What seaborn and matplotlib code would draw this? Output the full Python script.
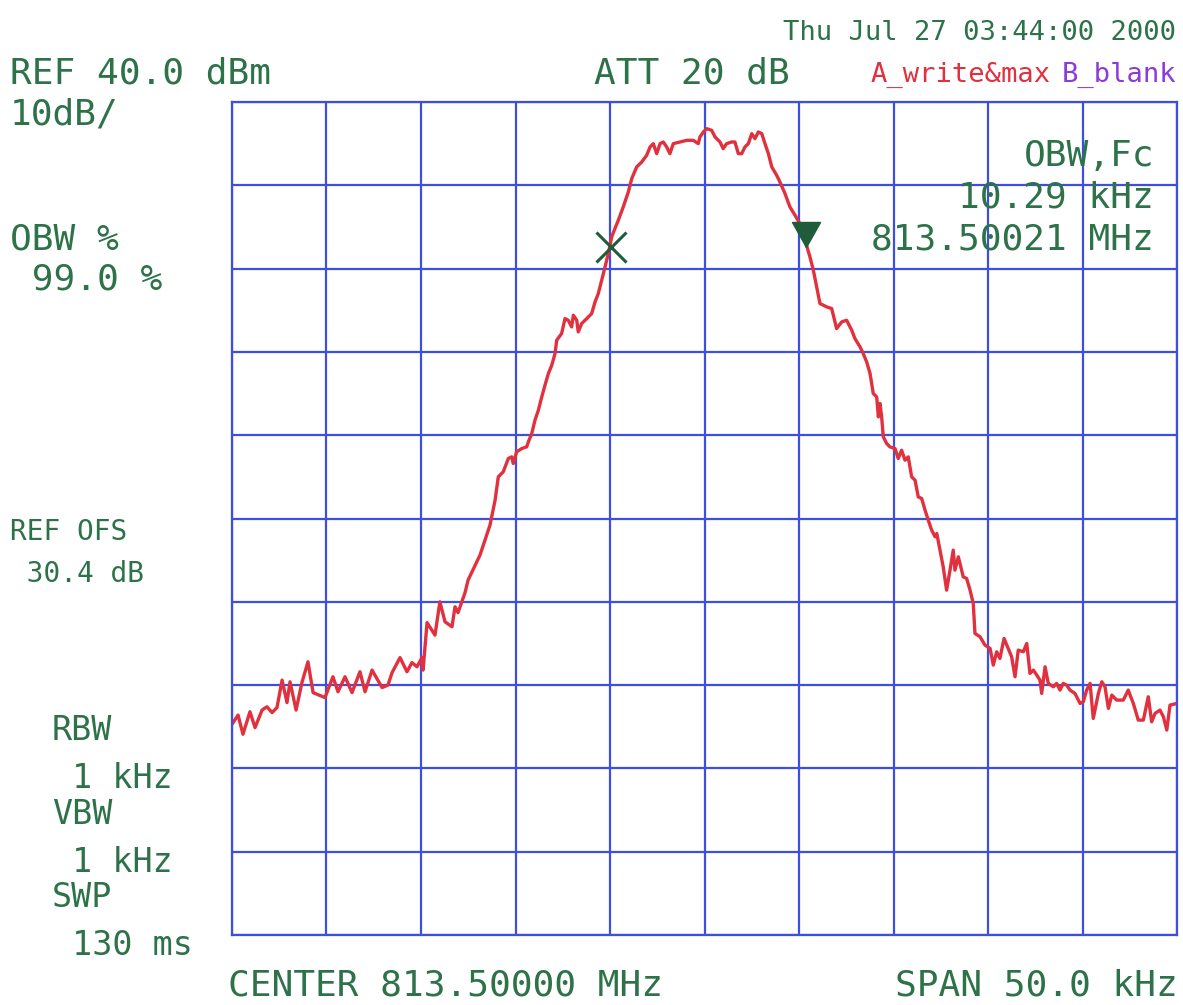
import numpy as np
import pandas as pd
import matplotlib
matplotlib.use("Agg")
import matplotlib.pyplot as plt
import seaborn as sns

# trace: offset from center (kHz) and level (dBm)
freq_khz = [
    -25.00, -24.68, -24.42, -24.05, -23.78, -23.41, -23.15, -22.88, -22.62, -22.35,
    -22.09, -21.93, -21.61, -21.30, -20.98, -20.71, -20.08, -19.66, -19.39, -19.02,
    -18.65, -18.23, -17.96, -17.59, -17.06, -16.75, -16.53, -16.11, -15.74, -15.48,
    -15.21, -14.95, -14.89, -14.68, -14.26, -14.00, -13.73, -13.36, -13.20, -13.04,
    -12.67, -12.51, -11.88, -11.35,
    -11.08, -10.91, -10.65, -10.38, -10.20, -10.12, -9.94, -9.67, -9.41, -9.32,
    -9.14, -8.97, -8.79, -8.61, -8.44, -8.26, -8.08, -7.91, -7.82, -7.56,
    -7.38, -7.21, -7.03, -6.94, -6.76, -6.68, -6.50, -6.23, -5.97, -5.79,
    -5.62, -5.35, -5.09, -4.91, -4.74, -4.56, -4.30, -4.03, -3.85, -3.59,
    -3.32, -3.06, -2.88, -2.71, -2.53, -2.35, -2.18, -2.00, -1.83, -1.65,
    -1.30, -0.94, -0.59, -0.33, -0.24, -0.06, 0.12, 0.38, 0.56, 0.82,
    0.99, 1.17, 1.44, 1.61, 1.79, 1.97, 2.14, 2.32, 2.50, 2.67,
    2.85, 3.03, 3.20, 3.38, 3.56, 3.82, 3.99, 4.26, 4.52, 4.79,
    5.05, 5.32, 5.58,
    5.76, 6.11, 6.47, 6.73, 6.99, 7.26, 7.52, 7.79, 7.96, 8.23,
    8.40, 8.58, 8.76, 8.93, 9.11, 9.20, 9.29, 9.38, 9.46, 9.64,
    9.81, 10.08, 10.25, 10.43, 10.61, 10.78, 10.96, 11.14, 11.31, 11.49,
    11.67, 11.84, 12.02, 12.20, 12.29, 12.46, 12.63, 12.81, 12.99, 13.16,
    13.25, 13.43, 13.69, 13.87, 14.05, 14.22, 14.31, 14.58, 14.84, 15.11,
    15.28, 15.46, 15.63, 15.85, 16.07, 16.25, 16.43, 16.60, 16.87, 17.05,
    17.22, 17.40, 17.58, 17.75, 17.84, 18.02, 18.19, 18.46, 18.63, 18.81,
    18.98, 19.16, 19.34, 19.60, 19.87, 20.04, 20.22, 20.40, 20.57, 20.84,
    21.02, 21.19, 21.37, 21.55, 21.81, 22.16, 22.42, 22.69, 22.95, 23.22,
    23.48, 23.66, 23.84, 24.10, 24.28, 24.46, 24.63, 25.00,
]

level_dbm = [
    -34.7, -33.6, -35.9, -33.2, -35.1, -33.0, -32.6, -33.3, -32.7, -29.4,
    -32.1, -29.6, -33.0, -29.7, -27.2, -30.9, -31.5, -29.0, -30.8, -29.0,
    -30.9, -28.4, -30.8, -28.2, -30.3, -30.0, -28.5, -26.7, -28.4, -27.3,
    -27.8, -26.7, -28.2, -22.5, -24.0, -20.0, -22.4, -23.0, -20.6, -21.3,
    -18.9, -17.4, -14.4, -10.8,
    -7.8, -5.0, -4.4, -2.8, -2.6, -3.4, -2.0, -1.6, -1.4, -0.8,
    0.2, 1.8, 3.0, 4.6, 6.0, 7.4, 8.4, 9.8, 11.4, 12.2,
    14.0, 13.8, 13.0, 14.4, 13.8, 12.4, 13.4, 14.0, 14.6, 16.0,
    17.0, 19.4, 21.8, 23.8, 24.8, 25.8, 27.4, 29.2, 30.8, 32.2,
    32.8, 33.6, 34.6, 35.0, 33.8, 35.0, 35.2, 34.6, 33.8, 35.0,
    35.2, 35.4, 35.4, 35.0, 35.8, 36.4, 36.8, 36.6, 35.8, 35.2,
    34.4, 35.0, 35.2, 35.2, 33.8, 33.8, 34.6, 35.0, 36.2, 35.6,
    36.4, 36.2, 35.0, 33.8, 32.2, 31.2, 30.4, 29.0, 27.4, 26.4,
    25.4, 23.4, 21.4,
    19.8, 15.8, 15.4, 15.2, 12.8, 13.6, 13.8, 12.6, 11.6, 10.6,
    9.8, 8.8, 7.4, 5.0, 4.6, 2.2, 3.8, 2.0, -0.2, -1.0,
    -1.4, -1.6, -2.8, -1.8, -3.0, -2.6, -5.0, -5.4, -7.4, -7.6,
    -9.0, -10.2, -11.4, -12.2, -11.8, -13.8, -15.8, -18.6, -16.2, -13.8,
    -16.2, -14.6, -17.0, -17.2, -18.6, -20.2, -23.8, -24.2, -25.2, -25.6,
    -27.6, -26.0, -26.8, -24.4, -25.6, -26.6, -29.0, -25.8, -26.0, -25.0,
    -28.6, -28.2, -28.8, -29.4, -31.0, -27.8, -29.8, -30.2, -29.8, -30.6,
    -29.8, -30.0, -30.6, -31.0, -32.2, -32.0, -30.6, -29.8, -34.0, -31.0,
    -29.6, -30.2, -32.8, -31.2, -31.8, -31.8, -30.6, -32.2, -34.2, -34.2,
    -31.4, -34.4, -33.4, -33.0, -33.8, -35.4, -32.4, -32.2,
]

# analyzer settings
ref_level = 40.0
db_per_div = 10.0
center_mhz = 813.50000
span_khz = 50.0
obw_khz = 10.29
fc_mhz = 813.50021
marker_level = 22.6

GREEN = "#2d7249"
MARK = "#1f5c3a"
BLUE = "#3d4fe0"
RED = "#e1303e"
PURPLE = "#8c3ad8"
MONO = ["DejaVu Sans Mono"]

df = pd.DataFrame({"freq": freq_khz, "level": level_dbm})

sns.set_style("white")
plt.rcParams["font.family"] = MONO

W, H = 1183, 1005
fig = plt.figure(figsize=(W / 100, H / 100), dpi=100)
ax = fig.add_axes([232 / W, 1 - 935 / H, 945 / W, 833 / H])

half = span_khz / 2
bottom = ref_level - 10 * db_per_div
ax.set_xlim(-half, half)
ax.set_ylim(bottom, ref_level)
ax.set_xticks(np.linspace(-half, half, 11))
ax.set_yticks(np.linspace(bottom, ref_level, 11))
ax.tick_params(length=0, labelbottom=False, labelleft=False)
ax.grid(True, color=BLUE, linewidth=1.6)
for sp in ax.spines.values():
    sp.set_color(BLUE)
    sp.set_linewidth(1.6)

sns.lineplot(data=df, x="freq", y="level", ax=ax, color=RED,
             linewidth=2.4, sort=False, estimator=None)
ax.set_xlabel("")
ax.set_ylabel("")

# OBW markers
fc_off = (fc_mhz - center_mhz) * 1000
lo = fc_off - obw_khz / 2
hi = fc_off + obw_khz / 2
ax.plot([lo], [marker_level], marker="x", markersize=22, mew=2.2,
        color=MARK, linestyle="none", zorder=5)
tri = [(0, 0), (-0.56, 1), (0.56, 1), (0, 0)]
ax.plot([hi], [marker_level], marker=tri, markersize=36, color=MARK,
        linestyle="none", zorder=5)


def put(x, y, s, size=26, color=GREEN, ha="left"):
    fig.text(x / W, 1 - y / H, s, fontsize=size, color=color, ha=ha,
             va="baseline", family=MONO)


put(1176, 40, "Thu Jul 27 03:44:00 2000", size=19.5, ha="right")
put(10, 84, "REF 40.0 dBm")
put(594, 84, "ATT 20 dB")
put(871, 82, "A_write&max", size=19.5, color=RED)
put(1176, 82, "B_blank", size=19.5, color=PURPLE, ha="right")
put(10, 124, "10dB/")
put(1154, 166, "OBW,Fc", ha="right")
put(1154, 208, f"{obw_khz:.2f} kHz", ha="right")
put(1154, 250, f"{fc_mhz:.5f} MHz", ha="right")
put(10, 250, "OBW %")
put(10, 290, " 99.0 %")
put(10, 540, "REF OFS", size=20)
put(10, 582, " 30.4 dB", size=20)
put(52, 740, "RBW", size=24)
put(52, 788, " 1 kHz", size=24)
put(52, 824, "VBW", size=24)
put(52, 872, " 1 kHz", size=24)
put(52, 907, "SWP", size=24)
put(52, 955, " 130 ms", size=24)
put(228, 995, f"CENTER {center_mhz:.5f} MHz")
put(1178, 995, f"SPAN {span_khz:.1f} kHz", ha="right")

fig.savefig("out.png", dpi=100, facecolor="white")
